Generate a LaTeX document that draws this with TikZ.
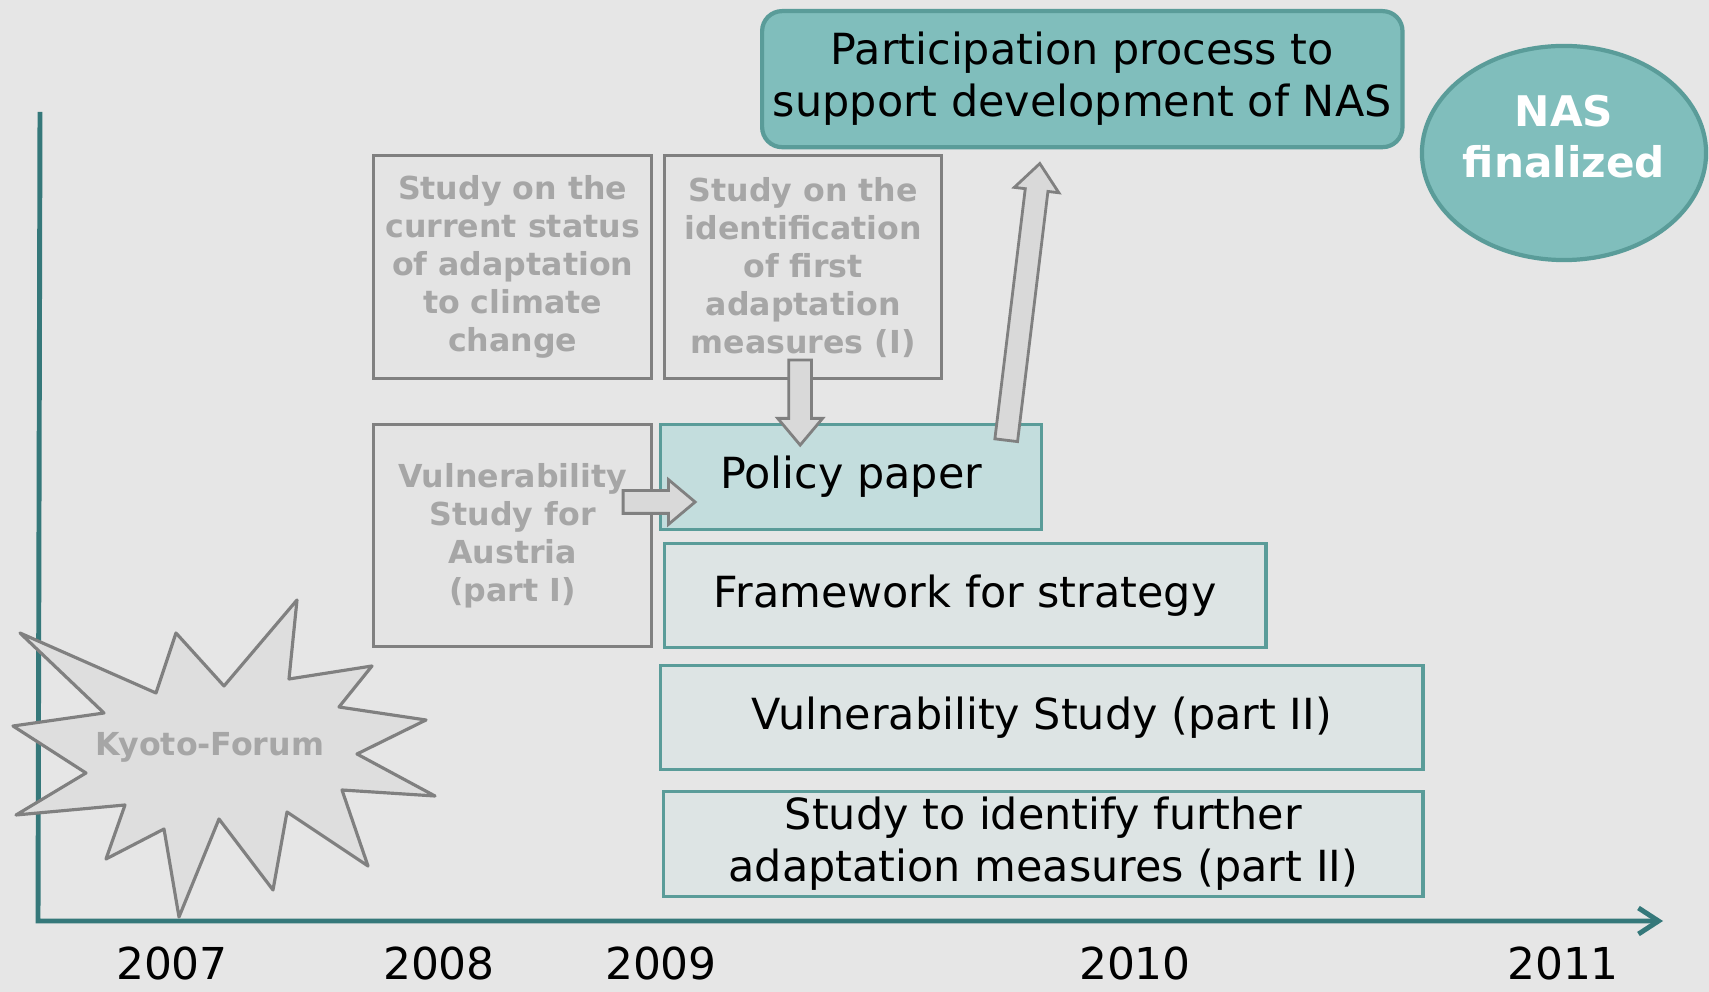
\documentclass[tikz,border=0pt]{standalone}
\usepackage{fontspec}
\setmainfont{DejaVu Sans}
\usetikzlibrary{arrows.meta, shapes.geometric, shapes.arrows, calc}

\definecolor{bggray}{HTML}{E6E6E6}
\definecolor{oldline}{HTML}{808080}
\definecolor{oldfill}{HTML}{E4E4E4}
\definecolor{oldtext}{HTML}{A6A6A6}
\definecolor{tealline}{HTML}{5A9C99}
\definecolor{polfill}{HTML}{C3DDDD}
\definecolor{newfill}{HTML}{DDE4E4}
\definecolor{partfill}{HTML}{80BEBC}
\definecolor{axisteal}{HTML}{35787A}
\definecolor{arrfill}{HTML}{D9D9D9}
\definecolor{burstfill}{HTML}{DEDEDE}

\begin{document}
\begin{tikzpicture}[x=0.01cm, y=-0.01cm,
    oldbox/.style={draw=oldline, fill=oldfill, line width=0.9pt, anchor=north west,
        align=center, text=oldtext, inner sep=0pt,
        font=\fontsize{9}{10.8}\selectfont\bfseries},
    newbox/.style={draw=tealline, fill=newfill, line width=0.9pt, anchor=north west,
        align=center, inner sep=0pt, font=\fontsize{12.2}{14.8}\selectfont},
    yearlbl/.style={font=\fontsize{12.5}{15}\selectfont},
    blockarr/.style={single arrow, draw=oldline, fill=arrfill, line width=0.8pt,
        inner sep=0.1cm, single arrow head extend=0.11cm, single arrow tip angle=80,
        sloped, allow upside down, midway}]

        \useasboundingbox[fill=bggray] (0,0) rectangle (1709,992);

        % time axis
        \coordinate (ytop) at (40,112);
        \coordinate (org) at (38,921);
        \coordinate (xend) at (1663,921);
        \draw[axisteal, line width=1.4pt, -{Straight Barb[length=0.2cm, width=0.26cm, line width=1.4pt]}] (ytop) -- (org) -- (xend);

        \node[yearlbl] (y07) at (172,964) {2007};
        \node[yearlbl] (y08) at (439,964) {2008};
        \node[yearlbl] (y09) at (661,964) {2009};
        \node[yearlbl] (y10) at (1135,964) {2010};
        \node[yearlbl] (y11) at (1563,964) {2011};

        % Kyoto-Forum burst
        \draw[oldline, fill=burstfill, line width=0.9pt, line join=round]
            (20,633) -- (156,693) -- (176,633) -- (224,686) -- (297,600) -- (289,679)
            -- (372,666) -- (339,707) -- (426,720) -- (357,754) -- (435,796) -- (342,790)
            -- (368,866) -- (287,812) -- (273,890) -- (219,819) -- (179,917) -- (164,829)
            -- (106,859) -- (125,805) -- (16,815) -- (86,773) -- (13,726) -- (104,713) -- cycle;
        \node[text=oldtext, font=\fontsize{9}{10.8}\selectfont\bfseries] (kyoto) at (210,747) {Kyoto-Forum};

        % first studies
        \node[oldbox, minimum width=2.78cm, minimum height=2.23cm] (stat) at (372,154)
            {Study on the\\current status\\of adaptation\\to climate\\change};
        \node[oldbox, minimum width=2.77cm, minimum height=2.23cm] (ident) at (663,154)
            {Study on the\\identification\\of first\\adaptation\\measures (I)};
        \node[oldbox, minimum width=2.78cm, minimum height=2.22cm] (vul) at (372,423)
            {Vulnerability\\Study for\\Austria\\(part I)};

        % strategy steps
        \node[newbox, fill=polfill, minimum width=3.81cm, minimum height=1.05cm] (pol) at (659,423) {Policy paper};
        \node[newbox, minimum width=6.01cm, minimum height=1.04cm] (frame) at (663,542) {Framework for strategy};
        \node[newbox, minimum width=7.62cm, minimum height=1.04cm] (vultwo) at (659,664) {Vulnerability Study (part II)};
        \node[newbox, minimum width=7.59cm, minimum height=1.05cm] (furth) at (662,790)
            {Study to identify further\\adaptation measures (part II)};
        \node[newbox, fill=partfill, line width=1.2pt, rounded corners=0.2cm,
            minimum width=6.4cm, minimum height=1.36cm] (part) at (760,9)
            {Participation process to\\support development of NAS};
        \node[ellipse, draw=tealline, fill=partfill, line width=1.2pt,
            minimum width=2.84cm, minimum height=2.14cm] (nas) at (1564,153) {};
        \node[text=white, align=center, font=\fontsize{12}{14.5}\selectfont\bfseries]
            (nastext) at ([yshift=0.16cm]nas.center) {NAS\\finalized};

        % block arrows
        \coordinate (dnA) at ($(ident.south)+(-3,-27)$);
        \coordinate (dnB) at ($(ident.south)+(-3,58)$);
        \coordinate (rtA) at ($(vul.north east)+(-37,79)$);
        \coordinate (rtB) at ($(vul.north east)+(35,79)$);
        \coordinate (upA) at ($(pol.north east)+(-38,24)$);
        \coordinate (upB) at ($(part.south west)+(279,21)$);

        \path let \p1=($(dnB)-(dnA)$), \n1={veclen(\x1,\y1)} in
            (dnA) -- (dnB) node[blockarr, minimum height=\n1] {};
        \path let \p1=($(rtB)-(rtA)$), \n1={veclen(\x1,\y1)} in
            (rtA) -- (rtB) node[blockarr, minimum height=\n1] {};
        \path let \p1=($(upB)-(upA)$), \n1={veclen(\x1,\y1)} in
            (upA) -- (upB) node[blockarr, minimum height=\n1] {};

    \end{tikzpicture}
\end{document}
